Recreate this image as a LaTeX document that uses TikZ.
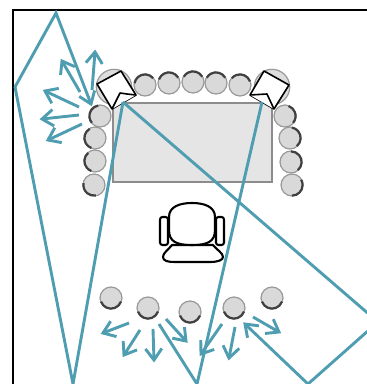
\documentclass[tikz,border=0pt]{standalone}
\usetikzlibrary{calc}
\tikzset{
  x=1pt,y=-1pt,
  flow/.style={draw=flowcol,line width=2.9pt,line join=miter,miter limit=10},
  frame/.style={draw=black,line width=2.2pt},
  tablebox/.style={draw=tableedge,fill=tablefill,line width=2.2pt},
  seat/.style={draw=seatedge,fill=seatfill,line width=1.2pt},
  seatrim/.style={draw=seatdark,line width=2.2pt},
  ink/.style={draw=black,line width=2.1pt,line join=round},
  inkfill/.style={draw=black,fill=white,line width=1.6pt,line join=round},
}
\definecolor{flowcol}{HTML}{4F9DB0}
\definecolor{tableedge}{HTML}{8C8C8C}
\definecolor{tablefill}{HTML}{E5E5E5}
\definecolor{seatedge}{HTML}{999999}
\definecolor{seatfill}{HTML}{D9D9D9}
\definecolor{seatdark}{HTML}{404040}
% open straight head at point #2, for a line arriving from point #1
\newcommand{\flowhead}[2]{\draw[flow] ($(#2)!14pt!36:(#1)$) -- (#2) -- ($(#2)!14pt!-36:(#1)$);}
\begin{document}
\begin{tikzpicture}
\useasboundingbox (0,0) rectangle (367,384);
\clip (0,0) rectangle (367,384);
% frame
\draw[frame] (13,384) -- (13,10) -- (367,10);
% table
\draw[tablebox] (113,103) rectangle (272,182);
% corner seats
\foreach \cx/\cy in {114/87,272/87}
  \draw[seat,fill=seatfill!90!white] (\cx,\cy) circle[radius=17.7pt];
% seats: x / y / start / end of dark rim
\foreach \cx/\cy/\sa/\ea in {
  100/116/100/220, 95/138/120/250, 95/161/130/250, 94/185/170/280,
  145/85/40/170, 169/83/30/160, 193/82/30/150, 216/83/30/150, 240/85/20/140,
  285/116/-40/70, 290/138/-50/80, 291/162/-50/90, 292/185/-90/30,
  111/298/200/340, 148/308/200/340, 190/312/200/340, 234/308/200/340, 272/298/200/340}{
  \draw[seat] (\cx,\cy) circle[radius=11pt];
  \draw[seatrim] ([shift={(\sa:10.6pt)}]\cx,\cy) arc[start angle=\sa,end angle=\ea,radius=10.6pt];
}
% corner units
\draw[inkfill] (97,84) -- (121,71) -- (136,95) -- (112,109) -- cycle;
\draw[inkfill] (112,109) -- (120,93) -- (127,94) -- (136,95);
\draw[inkfill] (264,71) -- (289,85) -- (274,109) -- (250,95) -- cycle;
\draw[inkfill] (250,95) -- (267,94) -- (274,109);
% chair
\draw[ink,fill=white,rounded corners=2.5pt] (160,217) rectangle (168,245);
\draw[ink,fill=white,rounded corners=2.5pt] (216,217) rectangle (224,245);
\draw[ink,fill=white] (172,245) .. controls (168,250) and (163,253) .. (163,257)
  .. controls (163,261) and (168,262) .. (175,262) -- (210,262)
  .. controls (218,262) and (223,260) .. (223,257)
  .. controls (223,253) and (217,250) .. (213,245) -- cycle;
\draw[ink,fill=white] (192,203) .. controls (205,203) and (215,207) .. (215,217)
  -- (215,230) .. controls (215,242) and (207,245) .. (192,245)
  .. controls (177,245) and (169,242) .. (169,230) -- (169,217)
  .. controls (169,207) and (179,203) .. (192,203) -- cycle;
% outline polygons
\draw[flow] (15,87) -- (56,13) -- (91,104);
\flowhead{56,13}{91,104}
\draw[flow] (15,87) -- (73,384) -- (123,102);
\draw[flow] (123,102) -- (378,322) -- (308,384) -- (245,324);
\flowhead{308,384}{245,324}
\draw[flow] (262,102) -- (197,384) -- (159,324);
% arrows
\foreach \ax/\ay/\bx/\by in {
  92/90/95/52, 80/92/62/61, 79/107/45/91, 79/115/42/119, 82/124/48/140,
  129/323/103/333, 140/330/124/355, 153/329/154/360, 166/319/186/341,
  222/324/201/354, 235/327/229/358, 253/317/279/332}{
  \draw[flow] (\ax,\ay) -- (\bx,\by);
  \flowhead{\ax,\ay}{\bx,\by}
}
\end{tikzpicture}
\end{document}
